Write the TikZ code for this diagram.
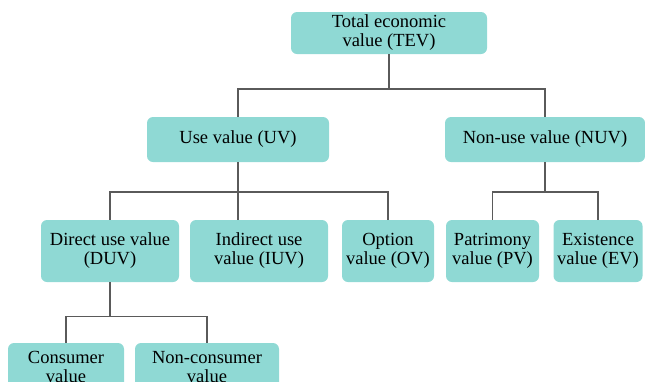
\documentclass[tikz,border=0pt]{standalone}
\usepackage{fontspec}
\setmainfont{Liberation Serif}
\definecolor{boxfill}{RGB}{143,217,212}
\definecolor{linegray}{RGB}{90,90,90}
\begin{document}
\begin{tikzpicture}[x=1pt,y=-1pt,
  valbox/.style={fill=boxfill, draw=none, rounded corners=6pt, inner sep=0pt,
    align=center, font=\fontsize{18.5}{19}\selectfont, text=black},
  conn/.style={draw=linegray, line width=1.8pt}]
\useasboundingbox (0,0) rectangle (645,381);
\clip (0,0) rectangle (645,381);
% level 1
\node[valbox, minimum width=196pt, minimum height=42pt] (tev) at (389,33) {Total economic\\value (TEV)};
% level 2
\node[valbox, minimum width=182pt, minimum height=45pt] (uv) at (238,139.5) {Use value (UV)};
\node[valbox, minimum width=200pt, minimum height=45pt] (nuv) at (545,139.5) {Non-use value (NUV)};
% level 3
\node[valbox, minimum width=138pt, minimum height=62pt] (duv) at (110,251) {Direct use value\\(DUV)};
\node[valbox, minimum width=138pt, minimum height=62pt] (iuv) at (259,251) {Indirect use\\value (IUV)};
\node[valbox, minimum width=92pt, minimum height=62pt] (ov) at (388,251) {Option\\value (OV)};
\node[valbox, minimum width=93pt, minimum height=62pt] (pv) at (492.5,251) {Patrimony\\value (PV)};
\node[valbox, minimum width=89pt, minimum height=62pt] (ev) at (598,251) {Existence\\value (EV)};
% level 4
\node[valbox, minimum width=116pt, minimum height=48pt] (cv) at (66,367) {Consumer\\value};
\node[valbox, minimum width=144pt, minimum height=48pt] (ncv) at (207,367) {Non-consumer\\value};
% junctions
\coordinate (j1) at (389,89);
\coordinate (j2) at (238,192);
\coordinate (j3) at (545,192);
\coordinate (j4) at (110,316.5);
% connectors
\draw[conn] (tev.south) -- (j1);
\draw[conn] (uv.north) |- (j1) -| (nuv.north);
\draw[conn] (uv.south) -- (j2 |- iuv.north);
\draw[conn] (duv.north) |- (j2) -| (ov.north);
\draw[conn] (nuv.south) -- (j3);
\draw[conn] (pv.north) |- (j3) -| (ev.north);
\draw[conn] (duv.south) -- (j4);
\draw[conn] (cv.north) |- (j4) -| (ncv.north);
\end{tikzpicture}
\end{document}
